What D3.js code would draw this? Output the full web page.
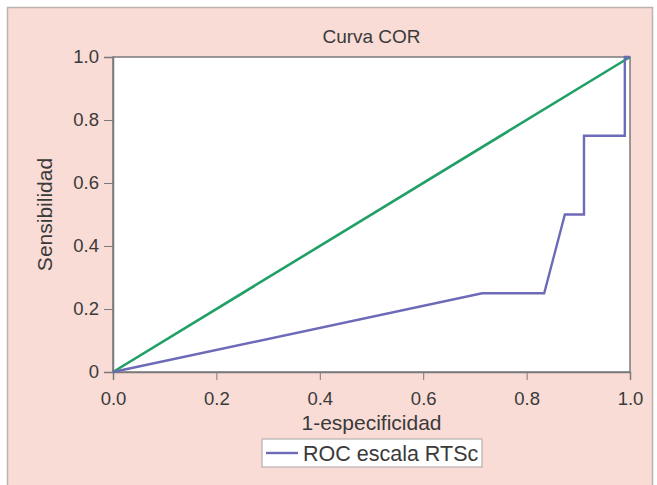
<!DOCTYPE html>
<html lang="es">
<head>
<meta charset="utf-8">
<script src="https://d3js.org/d3.v7.min.js"></script>
<style>
  body { margin: 0; background: #fff; }
  svg text { font-family: "Liberation Sans", Arial, sans-serif; fill: #3a3a3a; }
</style>
</head>
<body>
<script>
// ROC curve points (1-especificidad, sensibilidad)
var rocX = [0, 0.714, 0.834, 0.874, 0.911, 0.911, 0.99, 0.99, 1.0];
var rocY = [0, 0.25, 0.25, 0.5, 0.5, 0.75, 0.75, 1.0, 1.0];
var refX = [0, 1];
var refY = [0, 1];
var xTicks = [0, 0.2, 0.4, 0.6, 0.8, 1.0];
var yTicks = [0, 0.2, 0.4, 0.6, 0.8, 1.0];
var yTickLabels = ["0", "0.2", "0.4", "0.6", "0.8", "1.0"];

var W = 657, H = 485;
var plot = {left: 113, right: 630, top: 57, bottom: 372};

var svg = d3.select("body").append("svg")
  .attr("width", W).attr("height", H);

// frame + pink background
svg.append("rect").attr("x", 0).attr("y", 0).attr("width", W).attr("height", H).attr("fill", "#fff");
svg.append("rect").attr("x", 7.5).attr("y", 7.5).attr("width", 645).attr("height", H)
  .attr("fill", "#f9dcd6").attr("stroke", "#bdb3ae").attr("stroke-width", 1.5);

var x = d3.scaleLinear().domain([0, 1]).range([plot.left, plot.right]);
var y = d3.scaleLinear().domain([0, 1]).range([plot.bottom, plot.top]);

svg.append("rect")
  .attr("x", plot.left).attr("y", plot.top)
  .attr("width", plot.right - plot.left).attr("height", plot.bottom - plot.top)
  .attr("fill", "#fff").attr("stroke", "#7a7a7a").attr("stroke-width", 1.5);

var xAxis = svg.append("g").attr("transform", "translate(0," + plot.bottom + ")")
  .call(d3.axisBottom(x).tickValues(xTicks).tickFormat(d3.format(".1f")).tickSize(8).tickPadding(12));
var yAxis = svg.append("g").attr("transform", "translate(" + plot.left + ",0)")
  .call(d3.axisLeft(y).tickValues(yTicks).tickFormat(function (d, i) { return yTickLabels[i]; }).tickSize(9).tickPadding(5));

[xAxis, yAxis].forEach(function (a) {
  a.select(".domain").attr("stroke", "#7a7a7a").attr("stroke-width", 1.5);
  a.selectAll(".tick line").attr("stroke", "#7a7a7a");
  a.selectAll(".tick text").style("font-size", "18.5px").attr("fill", "#3a3a3a");
});

var line = d3.line().x(function (d) { return x(d[0]); }).y(function (d) { return y(d[1]); });

svg.append("path").datum(d3.zip(refX, refY)).attr("d", line)
  .attr("fill", "none").attr("stroke", "#20a066").attr("stroke-width", 2.6);
svg.append("path").datum(d3.zip(rocX, rocY)).attr("d", line)
  .attr("fill", "none").attr("stroke", "#6d6ab8").attr("stroke-width", 2.4);

// titles
svg.append("text").attr("x", (plot.left + plot.right) / 2).attr("y", 43)
  .attr("text-anchor", "middle").style("font-size", "19px").text("Curva COR");
svg.append("text").attr("x", (plot.left + plot.right) / 2).attr("y", 430)
  .attr("text-anchor", "middle").style("font-size", "21px").text("1-especificidad");
svg.append("text").attr("transform", "translate(52," + ((plot.top + plot.bottom) / 2) + ") rotate(-90)")
  .attr("text-anchor", "middle").style("font-size", "21px").text("Sensibilidad");

// legend
var lg = svg.append("g").attr("transform", "translate(262,439)");
lg.append("rect").attr("width", 220).attr("height", 28)
  .attr("fill", "#fff").attr("stroke", "#b8b0b0").attr("stroke-width", 1.2);
lg.append("line").attr("x1", 4).attr("x2", 36).attr("y1", 14).attr("y2", 14)
  .attr("stroke", "#6d6ab8").attr("stroke-width", 2.4);
lg.append("text").attr("x", 41).attr("y", 22).style("font-size", "21.5px").text("ROC escala RTSc");
</script>
</body>
</html>
